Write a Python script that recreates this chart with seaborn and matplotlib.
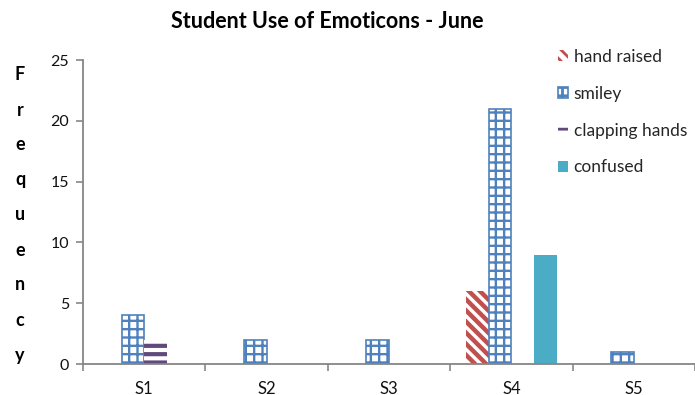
import numpy as np
import pandas as pd
import matplotlib
matplotlib.use("Agg")
import matplotlib.pyplot as plt
import seaborn as sns

# Emoticon counts per student
students = ["S1", "S2", "S3", "S4", "S5"]
emoticons = ["hand raised", "smiley", "clapping hands", "confused"]
hand_raised = [0, 0, 0, 6, 0]
smiley = [4, 2, 2, 21, 1]
clapping_hands = [2, 0, 0, 0, 0]
confused = [0, 0, 0, 9, 0]
y_ticks = [0, 5, 10, 15, 20, 25]

title = "Student Use of Emoticons - June"
y_label = "Frequency"

colors = {"hand raised": "#C0504D", "smiley": "#4F81BD",
          "clapping hands": "#604A7B", "confused": "#4BACC6"}
hatches = {"hand raised": "\\\\\\", "smiley": "++",
           "clapping hands": "--", "confused": None}
hatch_widths = {"hand raised": 3.2, "smiley": 1.7, "clapping hands": 3.0,
                "confused": 1.0}

df = pd.DataFrame({
    "student": students * len(emoticons),
    "emoticon": sum([[e] * len(students) for e in emoticons], []),
    "count": hand_raised + smiley + clapping_hands + confused,
})

sns.set_theme(style="white")
plt.rcParams["font.family"] = ["Lato", "DejaVu Sans"]
plt.rcParams["hatch.linewidth"] = 2.0

fig = plt.figure(figsize=(6.95, 3.95), dpi=100)
ax = fig.add_axes([83 / 695, 31 / 395, 612 / 695, 304 / 395])

sns.barplot(data=df, x="student", y="count", hue="emoticon",
            hue_order=emoticons, order=students, palette=colors,
            width=0.74, saturation=1, legend=False, ax=ax)

for emo, cont in zip(emoticons, ax.containers):
    for bar in cont:
        if hatches[emo]:
            bar.set_facecolor("white")
            bar.set_edgecolor(colors[emo])
            bar.set_hatch(hatches[emo])
            bar.set_linewidth(1.2 if emo == "smiley" else 0)
        else:
            bar.set_facecolor(colors[emo])
            bar.set_linewidth(0)
        try:
            bar.set_hatch_linewidth(hatch_widths[emo])
        except AttributeError:
            pass

axis_grey = "#868686"
ax.set_xlim(-0.5, len(students) - 0.5)
ax.set_ylim(0, 25)
ax.set_yticks(y_ticks)
ax.set_xlabel("")
ax.set_ylabel("")
for side in ("top", "right"):
    ax.spines[side].set_visible(False)
for side in ("left", "bottom"):
    ax.spines[side].set_color(axis_grey)
    ax.spines[side].set_linewidth(1.3)

ax.set_xticks(np.arange(-0.5, len(students), 1.0), minor=True)
ax.tick_params(axis="x", which="major", length=0, pad=12, labelsize=12,
               labelcolor="#111111")
ax.tick_params(axis="x", which="minor", length=5, width=1.2, color=axis_grey,
               direction="out", bottom=True)
ax.tick_params(axis="y", which="major", length=5, width=1.2, color=axis_grey,
               direction="out", left=True, pad=5, labelsize=11.5,
               labelcolor="#111111")

fig.text(327 / 695, 1 - 22 / 395, title, ha="center", va="center",
         fontsize=15.5, fontweight="bold", color="black")

for i, ch in enumerate(y_label):
    fig.text(20 / 695, 1 - (75 + 35 * i) / 395, ch, ha="center", va="center",
             fontsize=13, fontweight="bold", color="black")

leg = ax.legend(handles=ax.containers, labels=emoticons, loc="upper left",
                bbox_to_anchor=(551 / 695, 1 - 42 / 395),
                bbox_transform=fig.transFigure, frameon=False,
                fontsize=12.5, handlelength=0.6, handleheight=0.6,
                handletextpad=0.3, labelspacing=1.2, borderaxespad=0)

fig.savefig("out.png", dpi=100)
